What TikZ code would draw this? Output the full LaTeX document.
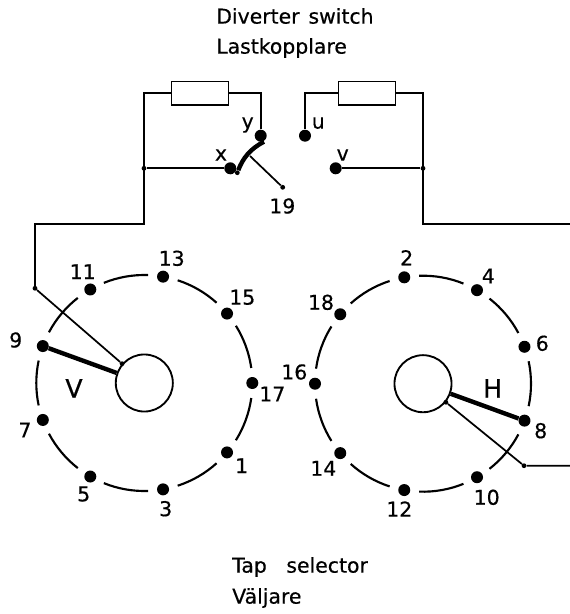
\documentclass[tikz,border=0pt]{standalone}
\usepackage{fontspec}
\setmainfont{DejaVu Sans}[FakeBold=0.5]
\usetikzlibrary{calc}
\tikzset{
	lbl/.style={inner sep=0pt,font=\fontsize{15.3}{18}\selectfont},
	biglbl/.style={inner sep=0pt,font=\fontsize{19}{22}\selectfont},
	wire/.style={line width=1.5pt},
	ring/.style={line width=1.6pt},
	arm/.style={line width=3.3pt},
	thinwire/.style={line width=1.3pt},
	term/.style={circle,fill=black,inner sep=0pt,minimum size=9pt},
	jun/.style={circle,fill=black,inner sep=0pt,minimum size=3.6pt},
	res/.style={draw,line width=1.1pt,inner sep=0pt,minimum width=42.5pt,minimum height=17.6pt},
	hub/.style={draw,circle,line width=1.4pt,inner sep=0pt,minimum size=42.8pt}}

\begin{document}
\begin{tikzpicture}[x=0.75pt,y=0.75pt,yscale=-1,xscale=1]
	\useasboundingbox (0,0) rectangle (570,614);

	% Diverter switch
	\node[res] (resL) at (200,93.4) {};
	\node[res] (resR) at (367,93.4) {};
	\node[term] (ty) at (260.7,135.7) {};
	\node[term] (tu) at (305,135.7) {};
	\node[term] (tx) at (230.3,168.3) {};
	\node[term] (tv) at (335.7,168.3) {};
	\node[jun] (jxL) at (144,168.3) {};
	\node[jun] (jvR) at (423,168.3) {};
	\coordinate (cornerL) at (144,224.3);
	\coordinate (cornerR) at (423,224.3);
	\coordinate (outV) at (35,224.3);
	\node[jun] (jV) at (35,288.3) {};
	\node[jun] (jH) at (524,465.7) {};
	\coordinate (endR) at (570,224.3);
	\coordinate (endH) at (570,465.7);
	\draw[wire] (resL.west) -| (cornerL) -- (outV) -- (jV);
	\draw[wire] (resL.east) -| (ty);
	\draw[wire] (resR.west) -| (tu);
	\draw[wire] (resR.east) -| (cornerR) -- (endR);
	\draw[wire] (jxL) -- (tx);
	\draw[wire] (tv) -- (jvR);

	% Moving contact
	\node[jun] (jSw) at (237.3,172.7) {};
	\coordinate (swTop) at (264,141.7);
	\coordinate (swMid) at (250,156);
	\node[jun] (j19) at (282.7,187.3) {};
	\draw[arm] (jSw) .. controls (243,158) and (250,149) .. (swTop);
	\draw[thinwire] (swMid) -- (j19);

	% Selector V
	\node[hub] (hubV) at (144.3,383) {};
	\foreach \n/\a in {17/0,15/-40,13/-80,11/-120,9/-160,7/-200,5/-240,3/-280,1/-320}{
		\node[term] (t\n) at ($(hubV.center)+(\a:108)$) {};
		\draw[ring] (hubV.center) ++(\a+8:108) arc[start angle=\a+8,end angle=\a+32,radius=108];
	}
	\node[jun] (jHubV) at (hubV.139) {};
	\draw[arm] (t9) -- (hubV);
	\draw[thinwire] (jV) -- (jHubV);

	% Selector H
	\node[hub] (hubH) at (423,383.7) {};
	\foreach \n/\a in {8/20,10/60,12/100,14/140,16/180,18/220,2/260,4/300,6/340}{
		\node[term] (t\n) at ($(hubH.center)+(\a:108)$) {};
		\draw[ring] (hubH.center) ++(\a+8:108) arc[start angle=\a+8,end angle=\a+32,radius=108];
	}
	\node[jun] (jHubH) at (hubH.-39) {};
	\draw[arm] (t8) -- (hubH);
	\draw[thinwire] (jHubH) -- (jH) -- (endH);

	% Text Node
	\node[lbl,anchor=west] (title1) at (216,16) {Diverter\hspace{6.7pt}switch};
	\node[lbl,anchor=west] (title2) at (216,48) {Lastkopplare};
	\node[lbl,anchor=west] (title3) at (232,567) {Tap\hspace{14.7pt}selector};
	\node[lbl,anchor=west] (title4) at (232,598) {Väljare};
	\node[biglbl] (labV) at (74,388.3) {V};
	\node[biglbl] (labH) at (492.7,388.3) {H};
	\foreach \n/\x/\y in {y/247.7/125,u/318.3/123,x/221/155,v/342.7/155,19/282.3/206,
		13/171.7/258.3,11/82.7/271.7,15/242.3/297.3,17/272.3/394,1/241.7/465.7,3/165.7/508.7,5/83.7/494,7/25/430,9/15.7/340,
		2/406.7/257.7,4/488.3/276,6/542.3/343.3,8/540.7/430.7,10/486.7/497.3,12/399.3/509,14/323.3/468.3,16/294.3/372,18/321/302.3}{
		\node[lbl] (lab\n) at (\x,\y) {\n};
	}
\end{tikzpicture}
\end{document}
